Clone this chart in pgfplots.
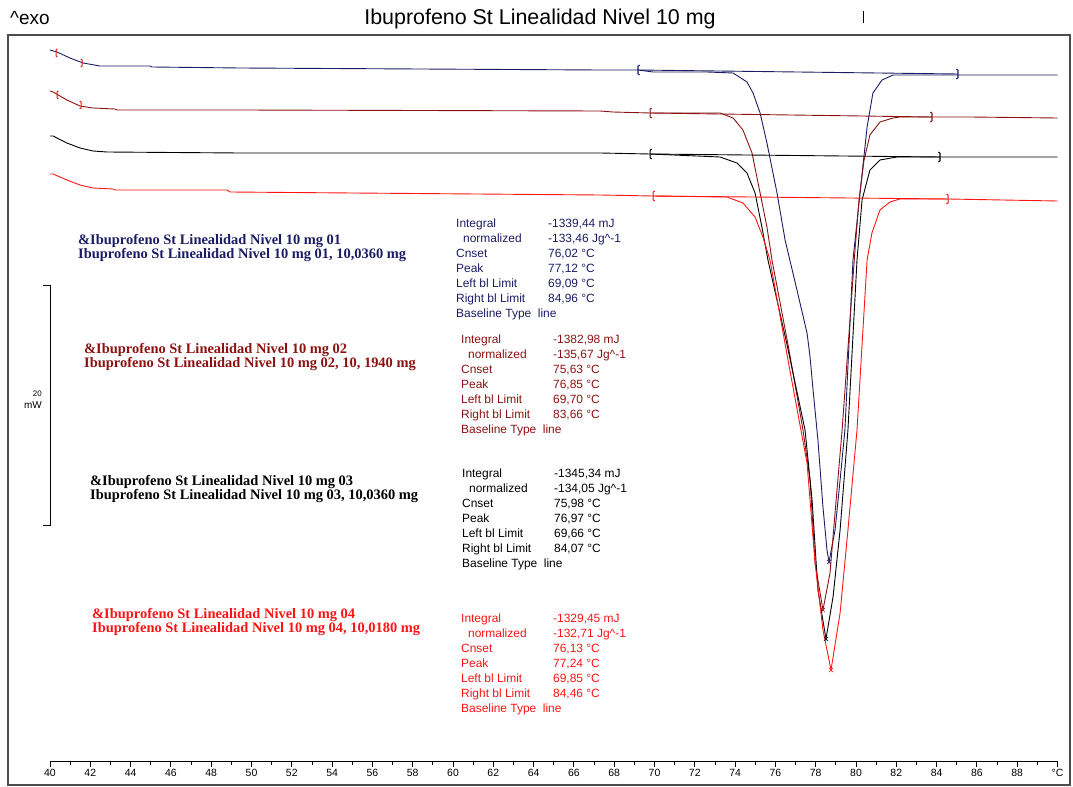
\documentclass[border=0pt]{standalone}
\usepackage{pgfplots}
\pgfplotsset{compat=1.18}
\usepackage{fontspec}
\setmainfont{Liberation Sans}
\newfontfamily\namefont{Liberation Serif}
\definecolor{cnavy}{RGB}{28,28,100}
\definecolor{cmaroon}{RGB}{140,18,18}
\definecolor{cred}{RGB}{255,20,20}
\pgfdeclareplotmark{lbr}{\pgfpathmoveto{\pgfqpoint{1.6pt}{5pt}}\pgfpathlineto{\pgfqpoint{0pt}{3.8pt}}\pgfpathlineto{\pgfqpoint{0pt}{-3.8pt}}\pgfpathlineto{\pgfqpoint{1.6pt}{-5pt}}\pgfusepathqstroke}
\pgfdeclareplotmark{rbr}{\pgfpathmoveto{\pgfqpoint{-1.6pt}{5pt}}\pgfpathlineto{\pgfqpoint{0pt}{3.8pt}}\pgfpathlineto{\pgfqpoint{0pt}{-3.8pt}}\pgfpathlineto{\pgfqpoint{-1.6pt}{-5pt}}\pgfusepathqstroke}
\newcommand\infoblock[6]{\fontsize{12}{15.2}\selectfont\begin{tabular}[t]{@{}p{92bp}@{}l@{}}
Integral & #1\\
\hspace{7bp}normalized & #2\\
Cnset & #3\\
Peak & #4\\
Left bl Limit & #5\\
Right bl Limit & #6\\
\multicolumn{2}{@{}l@{}}{Baseline Type\ \ line}\\
\end{tabular}}
\newcommand\nameblock[2]{\namefont\bfseries\fontsize{14.5}{15}\selectfont\begin{tabular}[t]{@{}l@{}}#1\\#2\end{tabular}}
\begin{document}
\begin{tikzpicture}
\path[use as bounding box] (0bp,0bp) rectangle (1073bp,-787bp);
\draw[line width=1.3bp, black!70] (8bp,-35bp) rectangle (1070bp,-785bp);
\begin{axis}[
  at={(50bp,-761bp)}, anchor=south west,
  width=1007.5bp, height=721bp, scale only axis,
  xmin=40, xmax=90, ymin=-761, ymax=-40,
  axis x line=bottom, axis y line=none,
  x axis line style={-, line width=0.9bp},
  xtick={40,42,...,90},
  xticklabels={40,42,44,46,48,50,52,54,56,58,60,62,64,66,68,70,72,74,76,78,80,82,84,86,88,\textdegree C},
  minor x tick num=1,
  tick align=outside,
  major tick length=6bp, minor tick length=4bp,
  tick style={black, line width=0.9bp},
  xticklabel style={font=\fontsize{10.5}{12}\selectfont, yshift=1.5bp},
  /pgf/number format/assume math mode=true,
  clip=false,
]
% navy curve 01
\addplot[cnavy, line width=0.9bp] coordinates {(40.00,-50)(40.35,-52)(40.99,-58)(41.64,-63)(42.48,-66)(44.96,-66)(45.06,-67)(49.43,-68)(67.30,-70)(69.18,-70)(69.93,-72)(72.61,-72)(73.90,-73)(74.59,-82)(74.89,-93)(75.24,-113)(75.58,-143)(76.08,-193)(76.48,-240)(77.07,-290)(77.57,-333)(77.72,-357)(77.87,-390)(78.11,-440)(78.36,-507)(78.56,-550)(78.66,-562)(78.96,-530)(79.21,-480)(79.45,-430)(79.85,-260)(80.20,-193)(80.55,-127)(80.84,-93)(81.29,-80)(81.84,-75)(82.18,-75)(90.00,-75)};
\addplot[cnavy, line width=0.9bp] coordinates {(69.18,-70)(85.06,-74)};
% maroon curve 02
\addplot[cmaroon, line width=0.9bp] coordinates {(40.00,-91)(40.15,-92)(40.84,-100)(41.49,-106)(42.13,-108)(43.23,-109)(43.33,-110)(49.43,-110)(67.30,-111)(67.94,-112)(69.78,-113)(73.25,-113)(73.90,-118)(74.39,-130)(74.84,-153)(75.14,-183)(75.58,-227)(75.83,-260)(76.63,-345)(77.37,-430)(77.72,-480)(77.97,-563)(78.36,-610)(78.71,-573)(78.96,-513)(79.31,-430)(79.95,-250)(80.15,-200)(80.40,-160)(80.69,-135)(81.19,-122)(81.84,-118)(82.18,-117)(85.66,-117)(90.00,-118)};
\addplot[cmaroon, line width=0.9bp] coordinates {(69.78,-113)(83.77,-117)};
% black curve 03
\addplot[black, line width=0.9bp] coordinates {(40.00,-136)(40.15,-136)(40.84,-143)(41.49,-148)(42.13,-151)(42.83,-152)(49.43,-153)(67.30,-153)(69.78,-154)(73.25,-157)(74.09,-163)(74.59,-173)(74.99,-193)(75.33,-227)(75.63,-260)(76.58,-345)(77.47,-430)(77.82,-500)(78.11,-590)(78.51,-639)(78.86,-597)(79.21,-530)(79.60,-430)(80.05,-260)(80.30,-200)(80.69,-170)(81.19,-160)(82.03,-157)(90.00,-157)};
\addplot[black, line width=0.9bp] coordinates {(69.78,-154)(84.17,-157)};
% red curve 04
\addplot[cred, line width=0.9bp] coordinates {(40.00,-174)(40.15,-174)(40.84,-180)(41.49,-185)(42.13,-188)(43.13,-189)(43.23,-190)(48.78,-190)(48.93,-192)(67.30,-195)(69.93,-196)(73.60,-197)(74.39,-203)(74.99,-217)(75.38,-237)(75.73,-260)(76.67,-365)(77.57,-463)(77.97,-563)(78.36,-630)(78.76,-670)(79.21,-613)(79.60,-530)(80.05,-430)(80.55,-260)(80.79,-233)(81.19,-210)(81.69,-202)(82.18,-199)(84.57,-199)(90.00,-201)};
\addplot[cred, line width=0.9bp] coordinates {(69.93,-196)(84.57,-199)};
% limit brackets
\addplot[only marks, mark=lbr, cnavy, mark options={line width=1.1bp}] coordinates {(69.18,-70)};
\addplot[only marks, mark=rbr, cnavy, mark options={line width=1.1bp}] coordinates {(85.06,-74)};
\addplot[only marks, mark=lbr, cmaroon, mark options={line width=1.1bp}] coordinates {(69.78,-113)};
\addplot[only marks, mark=rbr, cmaroon, mark options={line width=1.1bp}] coordinates {(83.77,-117)};
\addplot[only marks, mark=lbr, black, mark options={line width=1.1bp}] coordinates {(69.78,-154)};
\addplot[only marks, mark=rbr, black, mark options={line width=1.1bp}] coordinates {(84.17,-157)};
\addplot[only marks, mark=lbr, cred, mark options={line width=1.1bp}] coordinates {(69.93,-196)};
\addplot[only marks, mark=rbr, cred, mark options={line width=1.1bp}] coordinates {(84.57,-199)};
\addplot[only marks, mark=lbr, cred, mark options={line width=1bp, scale=0.8}] coordinates {(40.30,-53)(40.35,-95)};
\addplot[only marks, mark=rbr, cred, mark options={line width=1bp, scale=0.8}] coordinates {(41.59,-63)(41.54,-105)};
% peak marks
\addplot[only marks, mark=x, mark size=3bp, cnavy] coordinates {(78.66,-562)};
\addplot[only marks, mark=x, mark size=3bp, cmaroon] coordinates {(78.36,-610)};
\addplot[only marks, mark=x, mark size=3bp, black] coordinates {(78.51,-639)};
\addplot[only marks, mark=x, mark size=3bp, cred] coordinates {(78.76,-670)};
\end{axis}
% title
\node[anchor=base] at (540bp,-24bp) {\fontsize{21.5}{23}\selectfont Ibuprofeno St Linealidad Nivel 10 mg};
\node[anchor=base west, inner sep=0pt] at (10bp,-24bp) {\fontsize{19}{21}\selectfont \textasciicircum exo};
\draw[black, line width=0.8bp] (863bp,-11bp) -- (863bp,-23bp);
% scale bar
\draw[black, line width=0.9bp] (43bp,-285bp) -- (50bp,-285bp) -- (50bp,-525bp) -- (43bp,-525bp);
\node[anchor=east, inner sep=0pt, align=right] at (42bp,-400bp) {\fontsize{8}{13}\selectfont 20\\mW};
% blocks
\node[anchor=base west, inner sep=0pt, text=cnavy] at (78bp,-244bp) {\nameblock{\&Ibuprofeno St Linealidad Nivel 10 mg 01}{Ibuprofeno St Linealidad Nivel 10 mg 01, 10,0360 mg}};
\node[anchor=base west, inner sep=0pt, text=cnavy] at (456bp,-227bp) {\infoblock{-1339,44 mJ}{-133,46 Jg\textasciicircum-1}{76,02 °C}{77,12 °C}{69,09 °C}{84,96 °C}};
\node[anchor=base west, inner sep=0pt, text=cmaroon] at (84bp,-353bp) {\nameblock{\&Ibuprofeno St Linealidad Nivel 10 mg 02}{Ibuprofeno St Linealidad Nivel 10 mg 02, 10, 1940 mg}};
\node[anchor=base west, inner sep=0pt, text=cmaroon] at (461bp,-343bp) {\infoblock{-1382,98 mJ}{-135,67 Jg\textasciicircum-1}{75,63 °C}{76,85 °C}{69,70 °C}{83,66 °C}};
\node[anchor=base west, inner sep=0pt, text=black] at (90bp,-485bp) {\nameblock{\&Ibuprofeno St Linealidad Nivel 10 mg 03}{Ibuprofeno St Linealidad Nivel 10 mg 03, 10,0360 mg}};
\node[anchor=base west, inner sep=0pt, text=black] at (462bp,-477bp) {\infoblock{-1345,34 mJ}{-134,05 Jg\textasciicircum-1}{75,98 °C}{76,97 °C}{69,66 °C}{84,07 °C}};
\node[anchor=base west, inner sep=0pt, text=cred] at (92bp,-618bp) {\nameblock{\&Ibuprofeno St Linealidad Nivel 10 mg 04}{Ibuprofeno St Linealidad Nivel 10 mg 04, 10,0180 mg}};
\node[anchor=base west, inner sep=0pt, text=cred] at (461bp,-622bp) {\infoblock{-1329,45 mJ}{-132,71 Jg\textasciicircum-1}{76,13 °C}{77,24 °C}{69,85 °C}{84,46 °C}};
\end{tikzpicture}
\end{document}
